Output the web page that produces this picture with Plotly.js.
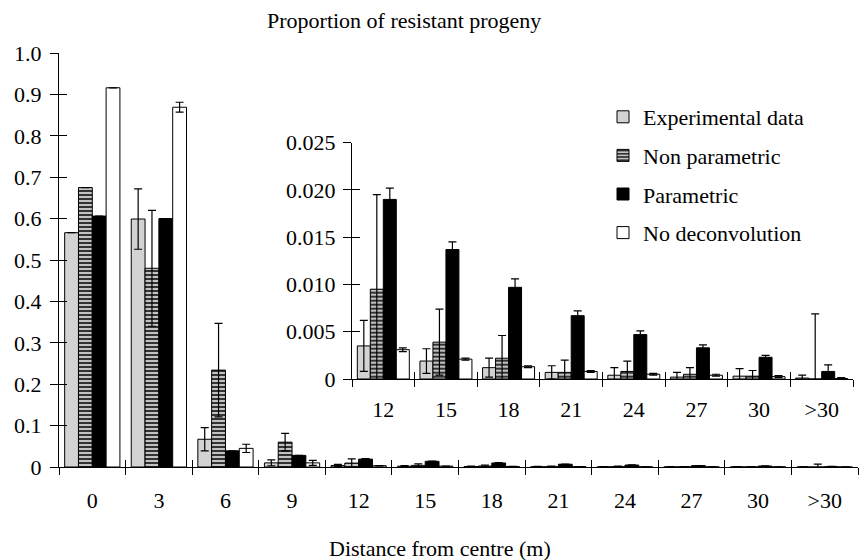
<!DOCTYPE html>
<html>
<head>
<meta charset="utf-8">
<script src="https://cdn.plot.ly/plotly-3.0.1.min.js"></script>
<style>html,body{margin:0;padding:0;background:#fff;}#chart{width:860px;height:560px;}</style>
</head>
<body>
<div id="chart"></div>
<script>
// ---- data ----
var categories = ["0","3","6","9","12","15","18","21","24","27","30",">30"];
var insetCategories = ["12","15","18","21","24","27","30",">30"];
var seriesNames = ["Experimental data","Non parametric","Parametric","No deconvolution"];

var experimental    = [0.566, 0.599, 0.067, 0.010, 0.0035, 0.0019, 0.0012, 0.0007, 0.0004, 0.0002, 0.0003, 0.0001];
var experimentalErr = [null,  0.073, 0.028, 0.007, 0.0027, 0.0013, 0.0010, 0.0007, 0.0008, 0.0005, 0.0008, 0.0003];
var nonParametric    = [0.675, 0.480, 0.234, 0.060, 0.0095, 0.0039, 0.0022, 0.0007, 0.0008, 0.0005, 0.0003, 0.0000];
var nonParametricErr = [null,  0.140, 0.113, 0.021, 0.0100, 0.0035, 0.0024, 0.0013, 0.0011, 0.0007, 0.0006, 0.0069];
var parametric    = [0.606, 0.600, 0.039, 0.028, 0.0190, 0.0137, 0.0097, 0.0067, 0.0047, 0.0033, 0.0023, 0.0008];
var parametricErr = [null,  null,  null,  null,  0.0012, 0.0008, 0.0009, 0.0005, 0.0004, 0.0003, 0.0002, 0.0007];
var noDeconv    = [0.916, 0.869, 0.045, 0.010, 0.0031, 0.0021, 0.0013, 0.0008, 0.0005, 0.0004, 0.00025, 0.00005];
var noDeconvErr = [null,  0.012, 0.010, 0.006, 0.0002, 0.0001, 0.0001, 0.0001, 0.0001, 0.0001, 0.0001, 0.0001];

var mainTickVals = [0,0.1,0.2,0.3,0.4,0.5,0.6,0.7,0.8,0.9,1.0];
var mainTickText = ["0","0.1","0.2","0.3","0.4","0.5","0.6","0.7","0.8","0.9","1.0"];
var insetTickVals = [0,0.005,0.010,0.015,0.020,0.025];
var insetTickText = ["0","0.005","0.010","0.015","0.020","0.025"];

var yTitle = "Proportion of resistant progeny";
var xTitle = "Distance from centre (m)";

// ---- styles ----
var FONT = "Liberation Serif, Times New Roman, serif";
var styles = [
  {color:"#d3d3d3"},
  {color:"#ffffff", pattern:{shape:"-", fgcolor:"#333333", bgcolor:"#ffffff", size:4, solidity:0.65, fillmode:"replace"}},
  {color:"#000000"},
  {color:"#ffffff"}
];
var values = [experimental, nonParametric, parametric, noDeconv];
var errors = [experimentalErr, nonParametricErr, parametricErr, noDeconvErr];

var traces = [];
var nInset = insetCategories.length;
var offsetInset = categories.length - nInset;
for (var s = 0; s < 4; s++) {
  var mk = {color: styles[s].color, line:{color:"#000", width:1}};
  if (styles[s].pattern) mk.pattern = styles[s].pattern;
  traces.push({
    type:"bar", x:categories, y:values[s], name:seriesNames[s],
    legendgroup:"g"+s, showlegend:true,
    marker:mk,
    error_y:{type:"data", array:errors[s], visible:true, color:"#000", thickness:1.2, width:4},
    xaxis:"x", yaxis:"y", hoverinfo:"skip"
  });
  traces.push({
    type:"bar", x:insetCategories, y:values[s].slice(offsetInset), name:seriesNames[s],
    legendgroup:"g"+s, showlegend:false,
    marker:mk,
    error_y:{type:"data", array:errors[s].slice(offsetInset), visible:true, color:"#000", thickness:1.2, width:4},
    xaxis:"x2", yaxis:"y2", hoverinfo:"skip"
  });
}
// empty helper traces so the tick-only overlay axes get drawn (ticks crossing the axis lines)
[["x3","y"],["x4","y2"],["x","y3"],["x2","y4"]].forEach(function(p){
  traces.push({type:"scatter", mode:"markers", x:[], y:[], xaxis:p[0], yaxis:p[1],
               showlegend:false, hoverinfo:"skip"});
});

var L = 59, R = 2, T = 53, B = 93;
var W = 860, H = 560;
var pw = W - L - R, ph = H - T - B;
function px2x(p){ return (p - L) / pw; }
function px2y(p){ return (H - B - p) / ph; }

var inX = [px2x(352), px2x(853)];
var inY = [px2y(379), px2y(142.7)];

var tickFont = {family:FONT, size:22, color:"#000"};
var insetFont = {family:FONT, size:22, color:"#000"};

function innerTicksY(overlay, anchor, range, vals, domain){
  return {overlaying:overlay, anchor:anchor, domain:domain, range:range, tickvals:vals, ticks:"inside", ticklen:8,
          tickcolor:"#000", tickwidth:1, showticklabels:false, showline:false, showgrid:false,
          zeroline:false, fixedrange:true};
}
function innerTicksX(overlay, anchor, n, domain){
  return {overlaying:overlay, anchor:anchor, domain:domain, type:"linear", range:[-0.5, n - 0.5], tick0:-0.5, dtick:1,
          ticks:"inside", ticklen:7, tickcolor:"#000", tickwidth:1, showticklabels:false,
          showline:false, showgrid:false, zeroline:false, fixedrange:true};
}

var layout = {
  width:W, height:H,
  margin:{l:L, r:R, t:T, b:B, pad:0},
  paper_bgcolor:"#fff", plot_bgcolor:"rgba(0,0,0,0)",
  barmode:"group", bargap:0.17, bargroupgap:0,
  font:{family:FONT, color:"#000"},
  showlegend:true,
  legend:{x:px2x(603), y:px2y(96), xanchor:"left", yanchor:"top",
          font:{family:FONT, size:22, color:"#000"}, bgcolor:"rgba(0,0,0,0)",
          borderwidth:0, tracegroupgap:7, itemwidth:30, traceorder:"grouped"},
  xaxis:{type:"category", domain:[0,1], anchor:"y", categoryorder:"array", categoryarray:categories,
         tickson:"boundaries", ticks:"outside", ticklen:7, tickcolor:"#000", tickwidth:1,
         showline:true, linecolor:"#000", linewidth:1, showgrid:false, zeroline:false,
         tickfont:tickFont, ticklabelstandoff:14, fixedrange:true},
  yaxis:{domain:[0,1], anchor:"x", range:[0,1.0], tickvals:mainTickVals, ticktext:mainTickText,
         ticks:"outside", ticklen:8, tickcolor:"#000", tickwidth:1,
         showline:true, linecolor:"#000", linewidth:1, showgrid:false, zeroline:false,
         tickfont:tickFont, ticklabelstandoff:4, fixedrange:true},
  xaxis2:{type:"category", domain:inX, anchor:"y2", categoryorder:"array", categoryarray:insetCategories,
         tickson:"boundaries", ticks:"outside", ticklen:7, tickcolor:"#000", tickwidth:1,
         showline:true, linecolor:"#000", linewidth:1, showgrid:false, zeroline:false,
         tickfont:insetFont, ticklabelstandoff:11, fixedrange:true},
  yaxis2:{domain:inY, anchor:"x2", range:[0,0.025], tickvals:insetTickVals, ticktext:insetTickText,
         ticks:"outside", ticklen:8, tickcolor:"#000", tickwidth:1,
         showline:true, linecolor:"#000", linewidth:1, showgrid:false, zeroline:false,
         tickfont:insetFont, ticklabelstandoff:3, fixedrange:true},
  annotations:[
    {text:yTitle, xref:"paper", yref:"paper", x:px2x(404), y:px2y(20), xanchor:"center", yanchor:"middle",
     showarrow:false, font:{family:FONT, size:22, color:"#000"}},
    {text:xTitle, xref:"paper", yref:"paper", x:px2x(440), y:px2y(548), xanchor:"center", yanchor:"middle",
     showarrow:false, font:{family:FONT, size:22, color:"#000"}}
  ]
};
layout.xaxis3 = innerTicksX("x", "y", categories.length, [0,1]);
layout.xaxis4 = innerTicksX("x2", "y2", insetCategories.length, inX);
layout.yaxis3 = innerTicksY("y", "x", [0,1.0], mainTickVals, [0,1]);
layout.yaxis4 = innerTicksY("y2", "x2", [0,0.025], insetTickVals, inY);

Plotly.newPlot("chart", traces, layout, {displayModeBar:false, staticPlot:true});
</script>
</body>
</html>
